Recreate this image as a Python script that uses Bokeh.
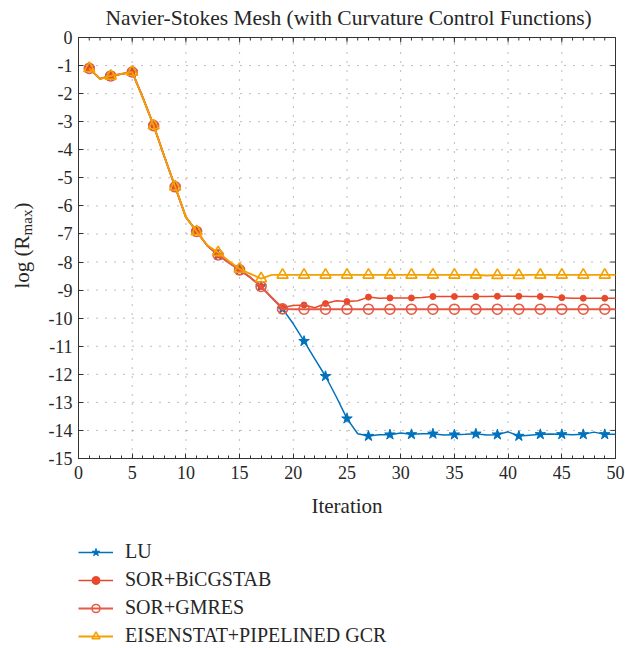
import math
from bokeh.plotting import figure
from bokeh.models import (Range1d, FixedTicker, Legend, LegendItem, PrintfTickFormatter)
from bokeh.core.properties import value
from bokeh.embed import file_html
from bokeh.resources import INLINE

iterations = list(range(1, 51))

lu = [-1.10, -1.47, -1.37, -1.30, -1.23, -2.15, -3.14, -4.25, -5.32, -6.40,
      -6.91, -7.42, -7.75, -8.02, -8.28, -8.55, -8.87, -9.27, -9.67, -10.20,
      -10.82, -11.45, -12.07, -12.80, -13.58, -14.12, -14.20, -14.15, -14.15, -14.09,
      -14.14, -14.12, -14.12, -14.16, -14.15, -14.14, -14.12, -14.16, -14.15, -14.05,
      -14.20, -14.17, -14.14, -14.13, -14.14, -14.15, -14.14, -14.06, -14.14, -14.14]

bicgstab = [-1.10, -1.47, -1.37, -1.30, -1.23, -2.15, -3.14, -4.25, -5.32, -6.40,
            -6.91, -7.42, -7.75, -8.02, -8.28, -8.55, -8.87, -9.27, -9.62, -9.55,
            -9.53, -9.63, -9.48, -9.38, -9.41, -9.38, -9.25, -9.29, -9.28, -9.28,
            -9.28, -9.26, -9.23, -9.23, -9.23, -9.23, -9.23, -9.23, -9.22, -9.22,
            -9.22, -9.23, -9.23, -9.24, -9.27, -9.29, -9.29, -9.29, -9.29, -9.29]

gmres = [-1.10, -1.47, -1.37, -1.30, -1.23, -2.15, -3.14, -4.25, -5.32, -6.40,
         -6.91, -7.42, -7.75, -8.02, -8.28, -8.55, -8.87, -9.27, -9.67, -9.68,
         -9.68, -9.68, -9.68, -9.68, -9.68, -9.68, -9.68, -9.68, -9.68, -9.68,
         -9.68, -9.68, -9.68, -9.68, -9.68, -9.68, -9.68, -9.68, -9.68, -9.68,
         -9.68, -9.68, -9.68, -9.68, -9.68, -9.68, -9.68, -9.68, -9.68, -9.68]

eisenstat = [-1.10, -1.47, -1.37, -1.30, -1.23, -2.15, -3.14, -4.25, -5.32, -6.40,
             -6.91, -7.40, -7.66, -7.96, -8.25, -8.42, -8.59, -8.46, -8.46, -8.46,
             -8.46, -8.46, -8.46, -8.46, -8.46, -8.46, -8.46, -8.46, -8.46, -8.46,
             -8.46, -8.46, -8.46, -8.46, -8.46, -8.46, -8.46, -8.48, -8.47, -8.47,
             -8.47, -8.46, -8.46, -8.46, -8.46, -8.46, -8.46, -8.46, -8.46, -8.46]

series_names = ["LU", "SOR+BiCGSTAB", "SOR+GMRES", "EISENSTAT+PIPELINED GCR"]
x_ticks = [0, 5, 10, 15, 20, 25, 30, 35, 40, 45, 50]
x_minor = list(range(0, 51))
y_ticks = list(range(-15, 1))
title_text = "Navier-Stokes Mesh (with Curvature Control Functions)"
x_title = "Iteration"
y_title_parts = ["log (R", "max", ")"]

FONT = "Liberation Serif"
TXT = "#262626"
AX = "#333333"
GRID = "#777777"

# ---- geometry (pixels on the 625 x 648 canvas) ----
W, H = 625, 648
BOX_L, BOX_R, BOX_T, BOX_B = 78, 615, 37, 458
x_lo, x_hi = x_ticks[0], x_ticks[-1]
y_lo, y_hi = y_ticks[0], y_ticks[-1]
kx = (BOX_R - BOX_L) / (x_hi - x_lo)
ky = (BOX_B - BOX_T) / (y_hi - y_lo)


def px(v):   # canvas x pixel -> data x
    return x_lo + (v - BOX_L) / kx


def py(v):   # canvas y pixel -> data y
    return y_hi - (v - BOX_T) / ky


p = figure(frame_width=W, frame_height=H, min_border_left=0, min_border_right=0,
           min_border_top=0, min_border_bottom=0,
           x_range=Range1d(px(0), px(W)), y_range=Range1d(py(H), py(0)),
           output_backend="svg", toolbar_location=None)
p.background_fill_color = "white"
p.border_fill_color = "white"
p.outline_line_color = None


def style_axis(ax):
    ax.axis_line_color = AX
    ax.major_tick_line_color = AX
    ax.minor_tick_line_color = AX
    ax.major_tick_in = 5
    ax.major_tick_out = 0
    ax.minor_tick_in = 3
    ax.minor_tick_out = 0
    ax.major_label_text_font = FONT
    ax.major_label_text_font_size = "18px"
    ax.major_label_text_color = TXT
    ax.formatter = PrintfTickFormatter(format="%d")


xa = p.xaxis[0]
xa.ticker = FixedTicker(ticks=x_ticks, minor_ticks=x_minor)
style_axis(xa)
xa.fixed_location = y_lo
xa.bounds = (x_lo, x_hi)
xa.major_label_standoff = 7

ya = p.yaxis[0]
ya.ticker = FixedTicker(ticks=y_ticks, minor_ticks=[])
style_axis(ya)
ya.fixed_location = x_lo
ya.bounds = (y_lo, y_hi)
ya.major_label_standoff = 6

p.xgrid[0].visible = False
p.ygrid[0].visible = False

# dotted grid inside the box
p.segment(x0=x_ticks, y0=[y_lo] * len(x_ticks), x1=x_ticks, y1=[y_hi] * len(x_ticks),
          line_color=GRID, line_dash="1 8", line_width=1)
p.segment(x0=[x_lo] * len(y_ticks), y0=y_ticks, x1=[x_hi] * len(y_ticks), y1=y_ticks,
          line_color=GRID, line_dash="1 8", line_width=1)

# top and right edges of the box, with inward ticks
p.segment(x0=[x_lo, x_hi], y0=[y_hi, y_lo], x1=[x_hi, x_hi], y1=[y_hi, y_hi],
          line_color=AX, line_width=1)
p.ray(x=x_ticks, y=[y_hi] * len(x_ticks), length=5, length_units="screen",
      angle=-math.pi / 2, line_color=AX, line_width=1)
p.ray(x=x_minor, y=[y_hi] * len(x_minor), length=3, length_units="screen",
      angle=-math.pi / 2, line_color=AX, line_width=1)
p.ray(x=[x_hi] * len(y_ticks), y=y_ticks, length=5, length_units="screen",
      angle=math.pi, line_color=AX, line_width=1)

# title and axis titles
p.text(x=[px(105)], y=[py(17)], text=[title_text], text_align="left",
       text_baseline="middle", text_font=value(FONT), text_font_size="21.5px",
       text_color=TXT)
p.text(x=[(x_lo + x_hi) / 2], y=[py(505)], text=[x_title], text_align="center",
       text_baseline="middle", text_font=value(FONT), text_font_size="21px",
       text_color=TXT)
p.text(x=[px(21)], y=[py(288)], text=[y_title_parts[0]], angle=math.pi / 2,
       text_align="left", text_baseline="middle", text_font=value(FONT),
       text_font_size="21px", text_color=TXT)
p.text(x=[px(26.5)], y=[py(234.9)], text=[y_title_parts[1]], angle=math.pi / 2,
       text_align="left", text_baseline="middle", text_font=value(FONT),
       text_font_size="15px", text_color=TXT)
p.text(x=[px(21)], y=[py(209.1)], text=[y_title_parts[2]], angle=math.pi / 2,
       text_align="left", text_baseline="middle", text_font=value(FONT),
       text_font_size="21px", text_color=TXT)

c_lu = "#0072BD"
c_bi = "#E8492A"
c_gm = "#E65A45"
c_ei = "#F5A000"

mx = iterations[::2]

l1 = p.line(iterations, lu, line_color=c_lu, line_width=1.5)
s1 = p.scatter(mx, lu[::2], marker="star", size=11, fill_color=c_lu, line_color=c_lu)

l2 = p.line(iterations, bicgstab, line_color=c_bi, line_width=1.5)
s2 = p.scatter(mx, bicgstab[::2], marker="circle", size=6, fill_color=c_bi, line_color=c_bi)

l3 = p.line(iterations, gmres, line_color=c_gm, line_width=2)
s3 = p.scatter(mx, gmres[::2], marker="circle", size=10, fill_color="white", fill_alpha=0,
               line_color=c_gm, line_width=1.6)

l4 = p.line(iterations, eisenstat, line_color=c_ei, line_width=1.8)
s4 = p.scatter(mx, eisenstat[::2], marker="triangle", size=11, fill_color="white", fill_alpha=0,
               line_color=c_ei, line_width=1.6)

legend = Legend(items=[
    LegendItem(label=series_names[0], renderers=[l1, s1]),
    LegendItem(label=series_names[1], renderers=[l2, s2]),
    LegendItem(label=series_names[2], renderers=[l3, s3]),
    LegendItem(label=series_names[3], renderers=[l4, s4]),
], location=(BOX_L, 1))
legend.background_fill_alpha = 0
legend.border_line_color = None
legend.label_text_font = FONT
legend.label_text_font_size = "20px"
legend.label_text_color = TXT
legend.glyph_width = 35
legend.glyph_height = 20
legend.label_height = 20
legend.label_standoff = 12
legend.spacing = 5
legend.padding = 0
legend.margin = 0
p.add_layout(legend, "center")

open("out.html", "w").write(file_html(p, INLINE))
